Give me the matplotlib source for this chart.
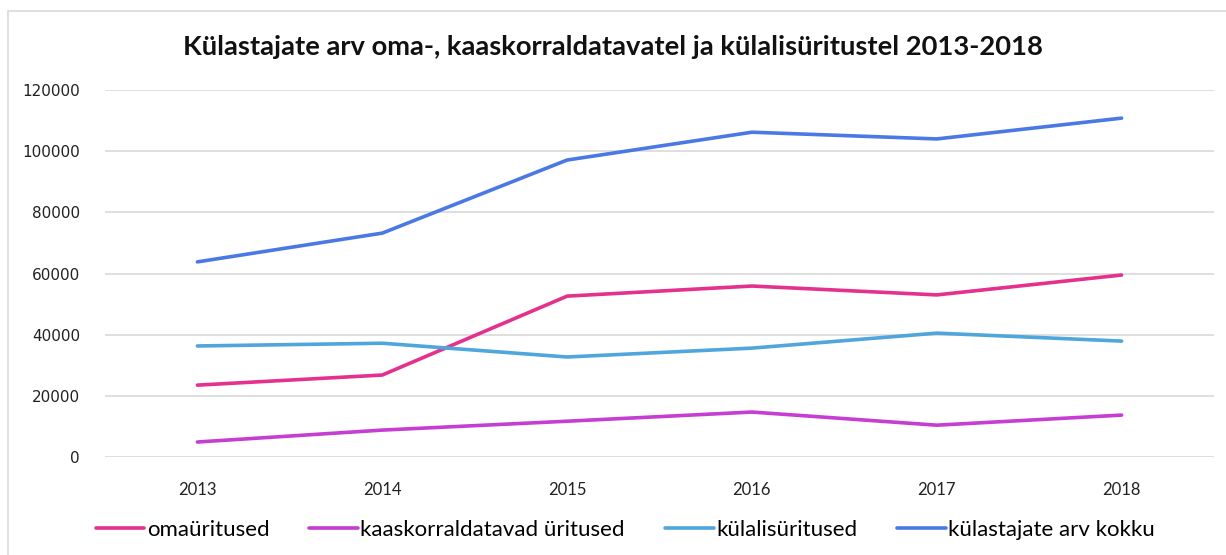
import matplotlib.pyplot as plt
from matplotlib.patches import Rectangle

years = ['2013', '2014', '2015', '2016', '2017', '2018']
oma = [23500, 26800, 52600, 55900, 53000, 59500]
kaas = [4900, 8800, 11700, 14700, 10400, 13700]
kulalis = [36300, 37200, 32700, 35600, 40500, 37900]
kokku = [63800, 73200, 97100, 106200, 104000, 110800]

labels = ['omaüritused', 'kaaskorraldatavad üritused', 'külalisüritused', 'külastajate arv kokku']
colors = ['#E4318D', '#C63DD3', '#4FA6DD', '#4A78E5']

plt.rcParams['font.family'] = ['Lato', 'DejaVu Sans']

fig = plt.figure(figsize=(12.26, 5.55), dpi=100)
ax = fig.add_axes([105 / 1226, 1 - 457 / 555, (1214 - 105) / 1226, (457 - 90) / 555])

x = range(len(years))
for vals, lab, col in zip([oma, kaas, kulalis, kokku], labels, colors):
    ax.plot(x, vals, color=col, lw=2.6, label=lab, solid_capstyle='round')

ax.set_xlim(-0.5, 5.5)
ax.set_ylim(0, 120000)
ax.set_yticks(range(0, 120001, 20000))
ax.set_xticks(list(x))
ax.set_xticklabels(years)
ax.grid(axis='y', color='#D9D9D9', lw=1.2)
ax.set_axisbelow(True)
for s in ax.spines.values():
    s.set_visible(False)
ax.tick_params(length=0, labelsize=12, colors='#222222')
ax.tick_params(axis='y', pad=18)
ax.tick_params(axis='x', pad=18)
for t in ax.get_yticklabels():
    t.set_fontfamily(['DejaVu Sans'])
    t.set_fontsize(11)

fig.text(0.5, 1 - 47 / 555, 'Külastajate arv oma-, kaaskorraldatavatel ja külalisüritustel 2013-2018',
         ha='center', va='center', fontsize=19.7, fontweight='bold', color='#111111')

fig.legend(loc='center', bbox_to_anchor=(0.51, 1 - 530 / 555), ncol=4, frameon=False,
           fontsize=16, handlelength=2.2, handletextpad=0.1, columnspacing=1.8)

fig.patches.append(Rectangle((8 / 1226, -0.1), 1.2, 1 - 11 / 555 + 0.1, transform=fig.transFigure,
                             fill=False, edgecolor='#D9D9D9', lw=1.2))

fig.savefig('out.png', dpi=100)
